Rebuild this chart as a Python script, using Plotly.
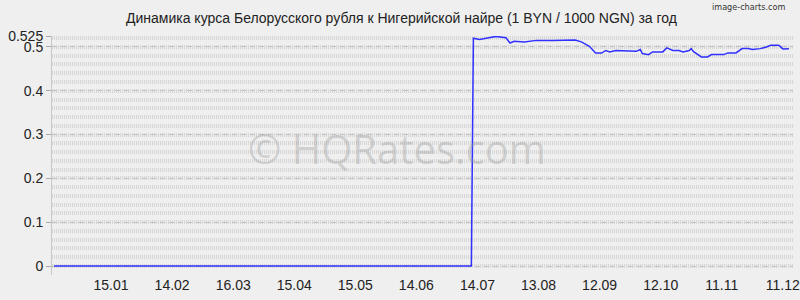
import plotly.graph_objects as go

# --- data ---
dates = [
    "2024-12-18", "2025-07-11", "2025-07-12", "2025-07-15", "2025-07-23", "2025-07-28",
    "2025-07-30", "2025-08-01", "2025-08-06", "2025-08-12", "2025-08-20", "2025-08-31",
    "2025-09-03", "2025-09-07", "2025-09-10", "2025-09-13", "2025-09-15", "2025-09-17",
    "2025-09-20", "2025-09-30", "2025-10-02", "2025-10-03", "2025-10-06", "2025-10-08",
    "2025-10-13", "2025-10-15", "2025-10-18", "2025-10-21", "2025-10-23", "2025-10-26",
    "2025-10-27", "2025-10-28", "2025-11-01", "2025-11-04", "2025-11-06", "2025-11-12",
    "2025-11-14", "2025-11-18", "2025-11-21", "2025-11-24", "2025-11-26", "2025-11-30",
    "2025-12-03", "2025-12-05", "2025-12-09", "2025-12-11", "2025-12-14",
]
rates = [
    0.0, 0.0, 0.520, 0.517, 0.524, 0.521,
    0.509, 0.513, 0.5115, 0.515, 0.515, 0.516,
    0.5115, 0.5015, 0.486, 0.486, 0.492, 0.4887,
    0.492, 0.490, 0.494, 0.485, 0.4825, 0.4887,
    0.4887, 0.4978, 0.492, 0.492, 0.4887, 0.492,
    0.4962, 0.490, 0.4772, 0.4772, 0.4825, 0.4825,
    0.4864, 0.4864, 0.4962, 0.4962, 0.494, 0.4962,
    0.500, 0.5038, 0.5038, 0.4955, 0.496,
]
x_tick_dates = [
    "2025-01-15", "2025-02-14", "2025-03-16", "2025-04-15", "2025-05-15", "2025-06-14",
    "2025-07-14", "2025-08-13", "2025-09-12", "2025-10-12", "2025-11-11", "2025-12-11",
]
x_tick_labels = ["15.01", "14.02", "16.03", "15.04", "15.05", "14.06",
                 "14.07", "13.08", "12.09", "12.10", "11.11", "11.12"]
y_tick_vals = [0, 0.1, 0.2, 0.3, 0.4, 0.5, 0.525]
y_tick_labels = ["0", "0.1", "0.2", "0.3", "0.4", "0.5", "0.525"]

title_text = "Динамика курса Белорусского рубля к Нигерийской найре (1 BYN / 1000 NGN) за год"

BG = "#efefef"
FONT = "Liberation Sans, Arial, sans-serif"
PLOT_TOP, PLOT_BOTTOM, PLOT_LEFT, PLOT_W = 36, 275, 52, 748
PLOT_H = PLOT_BOTTOM - PLOT_TOP


def py(pixel_y):
    return (PLOT_BOTTOM - pixel_y) / PLOT_H


def px(pixel_x):
    return (pixel_x - PLOT_LEFT) / PLOT_W


fig = go.Figure()
fig.add_trace(go.Scatter(
    x=dates, y=rates, mode="lines",
    line=dict(color="#3030ff", width=1.5),
    hoverinfo="skip",
))

fig.update_layout(
    width=800, height=300,
    margin=dict(l=PLOT_LEFT, r=0, t=PLOT_TOP, b=300 - PLOT_BOTTOM),
    paper_bgcolor=BG, plot_bgcolor=BG,
    showlegend=False,
    font=dict(family=FONT, size=14, color="#222222"),
    xaxis=dict(
        type="date",
        range=["2024-12-17", "2025-12-16"],
        tickmode="array", tickvals=x_tick_dates, ticktext=x_tick_labels,
        ticks="", showgrid=False, zeroline=False, showline=False,
        ticklabeloverflow="allow",
        tickfont=dict(family=FONT, size=14, color="#222222"),
    ),
    yaxis=dict(
        range=[-0.0205, 0.525],
        tickmode="array", tickvals=y_tick_vals, ticktext=y_tick_labels,
        ticks="outside", ticklen=5, tickcolor="#aaaaaa", tickwidth=1,
        showgrid=True, gridcolor="#c4c4c4", gridwidth=1, griddash="5px,4px",
        zeroline=False, showline=True, linecolor="#c8c8c8", linewidth=1,
        tickfont=dict(family=FONT, size=14, color="#222222"),
        minor=dict(
            tickmode="linear", tick0=0, dtick=0.02,
            showgrid=True, gridcolor="#d6d6d6", gridwidth=4, griddash="1px,1px",
            ticks="",
        ),
    ),
)

fig.add_annotation(
    text=title_text, xref="paper", yref="paper",
    x=px(405), y=py(18),
    xanchor="center", yanchor="middle", showarrow=False,
    font=dict(family=FONT, size=14, color="#222222"),
)
fig.add_annotation(
    text="image-charts.com", xref="paper", yref="paper",
    x=1, y=py(7), xshift=-6,
    xanchor="right", yanchor="middle", showarrow=False,
    font=dict(family="DejaVu Sans Condensed, DejaVu Sans, sans-serif", size=9, color="#333333"),
)
fig.add_annotation(
    text="© HQRates.com", xref="paper", yref="paper",
    x=px(400), y=py(148),
    xanchor="center", yanchor="middle", showarrow=False,
    font=dict(family="Open Sans, Noto Sans, sans-serif", size=40, color="rgba(150,150,150,0.35)"),
)

fig.write_html("out.html")
